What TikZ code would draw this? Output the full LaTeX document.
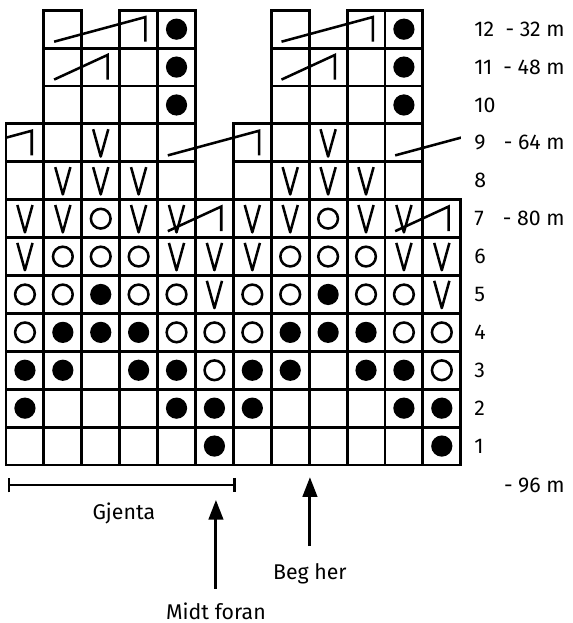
\documentclass[tikz,border=0pt]{standalone}
\usepackage{fontspec}
\setmainfont{Fira Sans}
\usetikzlibrary{arrows.meta}

\tikzset{
  rute/.style={line width=2.2pt},
  symb/.style={line width=1.9pt},
  pil/.style={line width=2.2pt, -{Triangle[width=0.38cm,length=0.52cm]}},
  klamme/.style={line width=1.9pt, {Bar[width=0.38cm]}-{Bar[width=0.38cm]}},
  tekst/.style={font=\fontsize{16}{19}\selectfont, inner sep=2pt},
  pics/fylt/.style={code={\fill (0,0) circle (0.28);}},
  pics/ring/.style={code={\draw[symb] (0,0) circle (0.26);}},
  pics/vee/.style={code={\draw[symb, line join=round] (-0.2,0.36) -- (0,-0.36) -- (0.2,0.36);}},
}

% one diagonal band of a symbol, starting in row #2
\newcommand{\band}[2]{%
  \foreach \c in {5,11} \pic at (\c+.5,#2+0.5) {#1};
  \foreach \c in {0,4,5,6,10,11} \pic at (\c+.5,#2+1.5) {#1};
  \foreach \c in {0,1,3,4,6,7,9,10} \pic at (\c+.5,#2+2.5) {#1};
  \foreach \c in {1,2,3,7,8,9} \pic at (\c+.5,#2+3.5) {#1};
  \foreach \c in {2,8} \pic at (\c+.5,#2+4.5) {#1};
}
% cable: column #1, row #2, width #3
\newcommand{\kabel}[3]{%
  \draw[symb] (#1+0.27,#2+0.17) -- (#1+#3-0.32,#2+0.82) -- (#1+#3-0.32,#2+0.17);
}

\begin{document}
\begin{tikzpicture}

\useasboundingbox (-0.158,-4.169) rectangle (14.96,12.27);

% grid
\foreach \y in {0,...,6}
  \foreach \x in {0,...,11}
    \draw[rute] (\x,\y) rectangle ++(1,1);
\foreach \y in {7,8}
  \foreach \x in {0,1,2,3,4,6,7,8,9,10}
    \draw[rute] (\x,\y) rectangle ++(1,1);
\foreach \y in {9,10}
  \foreach \x in {1,2,3,4,7,8,9,10}
    \draw[rute] (\x,\y) rectangle ++(1,1);
\foreach \x in {1,3,4,7,9,10}
  \draw[rute] (\x,11) rectangle ++(1,1);

% symbols
\band{fylt}{0}
\band{ring}{2}
\band{vee}{4}
\foreach \r in {9,10,11}
  \foreach \c in {4,10}
    \pic at (\c+.5,\r+.5) {fylt};

% cables
\kabel{4}{6}{2}
\kabel{10}{6}{2}
\begin{scope}
  \clip (0,8) rectangle (12,9);
  \kabel{-2}{8}{3}
  \kabel{4}{8}{3}
  \kabel{10}{8}{3}
\end{scope}
\kabel{1}{10}{2}
\kabel{7}{10}{2}
\kabel{1}{11}{3}
\kabel{7}{11}{3}

% row numbers and stitch counts
\foreach \r in {1,...,12}
  \node[tekst, anchor=west] (rad\r) at (12.28,\r-0.5) {\r};
\node[tekst, anchor=east] (m12) at (14.82,11.5) {- 32 m};
\node[tekst, anchor=east] (m11) at (14.82,10.5) {- 48 m};
\node[tekst, anchor=east] (m9) at (14.82,8.5) {- 64 m};
\node[tekst, anchor=east] (m7) at (14.82,6.5) {- 80 m};
\node[tekst, anchor=east] (m0) at (14.82,-0.55) {- 96 m};

% repeat and arrows
\coordinate (gjv) at (0.05,-0.53);
\coordinate (gjh) at (6.07,-0.53);
\draw[klamme] (gjv) -- (gjh);
\node[tekst, anchor=base] (gjenta) at (3.11,-1.43) {Gjenta};

\node[tekst, anchor=base] (beg) at (8.02,-3.02) {Beg her};
\coordinate (begspiss) at (8.02,-0.32);
\draw[pil, shorten <=0.38cm] (beg) -- (begspiss);

\node[tekst, anchor=base] (midt) at (5.54,-4.07) {Midt foran};
\coordinate (midtspiss) at (5.54,-0.92);
\draw[pil, shorten <=0.29cm] (midt) -- (midtspiss);

\end{tikzpicture}
\end{document}
